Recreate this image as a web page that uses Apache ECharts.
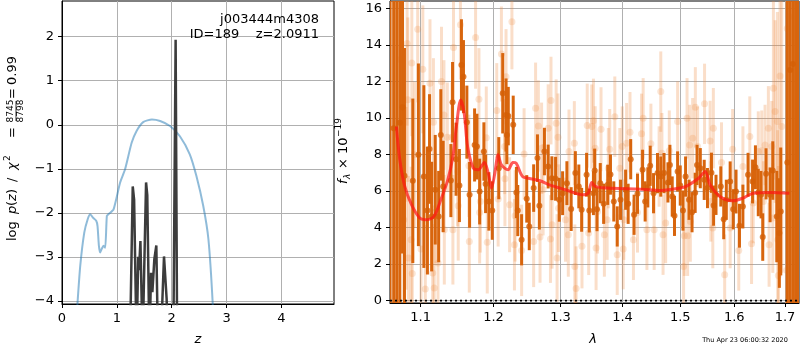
<!DOCTYPE html>
<html>
<head>
<meta charset="utf-8">
<script src="https://cdn.jsdelivr.net/npm/echarts@6/dist/echarts.min.js"></script>
<style>
html, body { margin: 0; padding: 0; background: #fff; }
#main { width: 800px; height: 350px; }
</style>
</head>
<body>
<div id="main"></div>
<script>
// ---- left panel: log p(z) ----
var zTicks = [0, 1, 2, 3, 4];
var logTicks = [-4, -3, -2, -1, 0, 1, 2];
var priorZ = [0.28,0.333,0.406,0.467,0.515,0.564,0.624,0.648,0.673,0.697,0.727,0.758,0.788,0.818,0.848,0.94,1.06,1.15,1.27,1.36,1.48,1.64,1.79,1.97,2.15,2.33,2.45,2.575,2.67,2.75];
var priorLog = [-4.1,-3.2,-2.45,-2.15,-2.03,-2.11,-2.18,-2.30,-2.75,-2.90,-2.81,-2.75,-2.79,-2.07,-2.03,-1.92,-1.31,-1.01,-0.41,-0.14,0.06,0.12,0.085,-0.03,-0.26,-0.67,-1.16,-1.84,-2.6,-4.1];
var pzZ = [1.24,1.29,1.315,1.36,1.39,1.405,1.43,1.47,1.49,1.533,1.555,1.594,1.624,1.648,1.684,1.72,1.75,1.80,1.86,1.908,1.93,2.03,2.072,2.10];
var pzLog = [-5,-1.40,-1.70,-5,-3.0,-3.3,-2.64,-5,-5,-1.31,-1.60,-5,-3.36,-3.80,-3.05,-2.74,-5,-5,-2.99,-3.95,-5,-5,1.93,-5];

// ---- right panel: spectrum ----
var lamTicks = [1.1, 1.2, 1.3, 1.4, 1.5, 1.6, 1.7];
var fluxTicks = [0, 2, 4, 6, 8, 10, 12, 14, 16];
var lamMin = 1.0604, lamMax = 1.7287;

var darkLam = [
  1.0605,1.0651,1.0690,1.0729,1.0764,1.0789,1.0897,1.0970,1.1042,1.1089,
  1.1117,1.1145,1.1193,1.1239,1.1268,1.1300,1.1404,1.1427,1.1475,1.1521,
  1.1549,1.1577,1.1624,1.1662,1.1732,1.1765,1.1803,1.1863,1.1887,1.1934,
  1.1982,1.2076,1.2133,1.2181,1.2193,1.2214,1.2286,1.2333,1.2353,1.2410,
  1.2486,1.2524,1.2590,1.2647,1.2676,1.2753,1.2810,1.2867,1.2924,1.2981,
  1.3033,1.3100,1.3167,1.3233,1.3288,1.3333,1.3412,1.3455,1.3522,1.3542,
  1.3580,1.3633,1.3688,1.3755,1.3800,1.3855,1.3912,1.3967,1.4052,1.4095,
  1.4138,1.4195,1.4253,1.4340,1.4384,1.4430,1.4471,1.4529,1.4598,1.4655,
  1.4712,1.4781,1.4816,1.4857,1.4897,1.4953,1.5000,1.5049,1.5096,1.5158,
  1.5213,1.5270,1.5304,1.5364,1.5436,1.5496,1.5570,1.5610,1.5655,1.5745,
  1.5800,1.5849,1.5922,1.5980,1.6034,1.6100,1.6166,1.6266,1.6354,1.6410,
  1.6466,1.6520,1.6554,1.6620,1.6700,1.6754,1.6834,1.6886,1.6914,1.7047,
  1.7103,1.7159,1.7216,1.7268];
var darkFlux = [
  17,9.44,17,9.74,10.58,6.83,6.56,7.98,6.79,4.93,
  8.30,4.60,6.07,4.60,9.07,6.25,6.57,10.86,7.74,6.30,
  12.90,12.26,9.77,5.79,8.52,8.43,5.97,8.16,6.39,5.43,
  4.93,7.25,11.35,10.16,9.07,10.10,9.62,5.92,4.93,3.33,
  5.57,4.06,6.16,7.80,5.19,8.16,7.34,6.70,6.67,5.52,
  5.88,6.43,5.01,6.98,6.25,4.97,6.89,4.93,5.88,7.12,
  5.00,6.43,5.30,6.34,6.90,5.43,4.06,5.52,6.07,5.30,
  7.74,4.70,5.85,7.16,5.43,6.20,7.38,5.88,6.98,6.79,
  6.98,6.47,7.43,5.70,4.64,7.07,6.30,4.93,6.79,5.52,
  4.84,5.90,7.43,7.25,6.61,6.16,7.00,5.20,5.79,6.25,
  4.46,5.52,6.52,5.00,5.97,4.10,5.15,6.89,6.52,7.30,
  5.92,5.80,3.48,6.94,5.79,7.12,4.60,3.70,4.88,7.56,
  12.62,12.95,17,17];
var darkErr = [
  20,20,20,20,8,7,4.5,5,5,3.5,
  3,3,3,2.5,2.5,2.5,2,2.2,2,2,
  2.5,2,2,1.8,2,1.8,1.8,1.6,1.6,1.6,
  1.6,1.7,2.2,2,1.6,1.6,1.6,1.4,1.4,1.4,
  1.3,1.3,1.3,1.3,1.3,1.3,1.2,1.2,1.2,1.2,
  1.2,1.2,1.2,1.2,1.2,1.2,1.2,1.2,1.2,1.2,
  1.2,1.1,1.1,1.1,1.1,1.1,1.1,1.1,1.1,1.1,
  1.1,1.1,1.1,1.1,1.1,1.1,1.1,1.1,1.1,1.1,
  1.1,1.1,1.1,1.1,1.1,1.1,1.1,1.1,1.1,1.1,
  1.1,1.1,1.1,1.1,1.1,1.1,1.1,1.1,1.1,1.1,
  1.1,1.1,1.1,1.1,1.2,1.2,1.2,1.2,1.2,1.2,
  1.3,1.3,1.3,1.4,1.5,1.6,2.5,3,3.5,20,
  20,20,20,20];

var faintLam = [
  1.0738,1.0780,1.0810,1.0823,1.0832,1.0840,1.0875,1.0884,1.0890,1.0919,
  1.0961,1.1004,1.1028,1.1061,1.1123,1.1159,1.1169,1.1179,1.1200,1.1230,
  1.1277,1.1310,1.1315,1.1356,1.1418,1.1432,1.1440,1.1497,1.1505,1.1535,
  1.1652,1.1658,1.1746,1.1793,1.1803,1.1813,1.1897,1.1911,1.2047,1.2067,
  1.2114,1.2161,1.2165,1.2181,1.2233,1.2267,1.2304,1.2314,1.2410,1.2447,
  1.2590,1.2619,1.2661,1.2686,1.2710,1.2733,1.2810,1.2845,1.2853,1.2870,
  1.2933,1.2947,1.2961,1.2971,1.3078,1.3122,1.3133,1.3217,1.3225,1.3245,
  1.3338,1.3422,1.3445,1.3495,1.3522,1.3550,1.3565,1.3588,1.3645,1.3700,
  1.3745,1.3765,1.3788,1.3872,1.3912,1.3955,1.3995,1.4012,1.4022,1.4069,
  1.4126,1.4184,1.4253,1.4322,1.4350,1.4414,1.4483,1.4540,1.4626,1.4655,
  1.4675,1.4695,1.4741,1.4805,1.4953,1.5060,1.5073,1.5122,1.5133,1.5169,
  1.5182,1.5224,1.5273,1.5315,1.5442,1.5545,1.5558,1.5595,1.5605,1.5758,
  1.5818,1.5922,1.5969,1.6086,1.6166,1.6300,1.6334,1.6366,1.6466,1.6534,
  1.6566,1.6600,1.6666,1.6680,1.6734,1.6754,1.6766,1.6800,1.6846,1.6855,
  1.6866,1.6900,1.6934,1.7035,1.7047,1.7089];
var faintFlux = [
  13.20,4.43,5.60,14.08,11.00,2.33,3.33,13.00,1.48,7.98,
  14.85,2.82,12.66,0.64,11.90,1.51,9.77,0.69,5.06,2.06,
  11.99,10.16,3.88,8.94,8.94,3.88,13.86,7.07,5.19,15.10,
  7.38,3.24,14.40,11.02,4.83,5.43,8.92,3.19,10.40,5.56,
  13.50,8.43,6.67,12.26,5.25,15.26,3.06,4.64,2.75,8.03,
  3.24,10.53,9.56,3.48,8.34,6.07,9.44,3.37,10.95,4.15,
  9.71,2.33,8.94,5.06,4.43,3.61,8.16,8.62,1.87,0.67,
  2.97,9.58,3.70,9.53,9.85,8.34,2.88,4.88,9.38,3.61,
  4.43,7.25,8.29,10.07,2.51,7.25,8.43,2.82,4.43,8.62,
  9.22,3.33,4.83,9.13,9.98,3.88,8.58,3.88,7.34,11.44,
  8.07,3.61,4.25,8.21,9.80,1.87,3.55,9.98,3.55,8.52,
  4.33,8.89,10.58,8.43,10.77,8.74,5.43,3.97,9.44,7.56,
  1.42,3.97,8.29,2.75,7.34,8.98,3.11,5.34,8.16,8.21,
  5.43,8.52,9.44,3.06,8.43,4.52,11.62,10.35,9.80,3.33,
  1.37,12.30,9.53,1.66,14.90,15.54];
var faintErr = [
  5,5,5,4.5,4.5,4.5,4,4,4,4,
  4,4,3.5,3.5,3.5,3.5,3.5,3.5,3,3,
  3,3,3,3,3,3,3,3,3,3,
  2.8,2.8,2.8,2.8,2.8,2.8,2.8,2.8,2.6,2.6,
  2.6,2.6,2.6,2.6,2.6,2.6,2.5,2.5,2.5,2.5,
  2.5,2.5,2.5,2.5,2.5,2.5,2.4,2.4,2.4,2.4,
  2.4,2.4,2.4,2.4,2.3,2.3,2.3,2.3,2.3,2.3,
  2.3,2.3,2.3,2.3,2.3,2.3,2.3,2.3,2.3,2.3,
  2.2,2.2,2.2,2.2,2.2,2.2,2.2,2.2,2.2,2.2,
  2.2,2.2,2.2,2.2,2.2,2.2,2.2,2.2,2.2,2.2,
  2.2,2.2,2.2,2.2,2.2,2.2,2.2,2.2,2.2,2.2,
  2.2,2.2,2.2,2.2,2.2,2.2,2.2,2.2,2.2,2.2,
  2.2,2.2,2.2,2.2,2.2,2.2,2.2,2.2,2.2,2.2,
  2.2,2.2,2.3,2.3,2.5,3,5,5,6,6,
  6,8,8,20,20,20];

var modelLam = [1.0686,1.0729,1.0793,1.0880,1.0987,1.1056,1.1173,1.1268,1.1362,1.1432,1.1479,1.1539,1.1587,1.1634,1.1714,1.1785,1.1869,1.1925,1.1972,1.2019,1.2067,1.2114,1.2210,1.2281,1.2329,1.2424,1.2543,1.2686,1.2829,1.3078,1.3355,1.3438,1.3495,1.3550,1.3745,1.4310,1.4655,1.5000,1.5122,1.5333,1.5455,1.5545,1.5727,1.5969,1.6166,1.6366,1.6700,1.7089];
var modelFlux = [9.53,7.70,6.25,5.25,4.52,4.43,4.60,5.52,6.61,7.89,9.53,10.98,10.25,8.43,7.25,7.16,7.56,6.98,6.16,6.98,7.98,7.43,7.16,7.56,7.52,6.79,6.67,6.56,6.34,6.07,5.79,5.88,6.47,6.25,6.16,6.10,6.03,6.16,6.28,6.70,7.07,6.34,5.70,5.46,5.61,5.88,5.92,5.88];

// ---- build ----
var L = Math.log;
function xy(xs, ys) { return xs.map(function (x, i) { return [x, ys[i]]; }); }
function lnPts(lam, f, e) {
  return lam.map(function (l, i) { return e ? [L(l), f[i], e[i]] : [L(l), f[i]]; });
}
function errBar(color) {
  return function (params, api) {
    var x = api.value(0), y = api.value(1), e = api.value(2);
    var a = api.coord([x, y - e]), b = api.coord([x, y + e]);
    return { type: 'line', shape: { x1: a[0], y1: a[1], x2: b[0], y2: b[1] },
             style: { stroke: color, lineWidth: 3 } };
  };
}
var minus = function (v) { return (v < 0 ? '\u2212' : '') + Math.abs(v); };
var FONT = 'DejaVu Sans';
var lblStyle = { color: '#000', fontSize: 13, fontFamily: FONT };
var grid = { lineStyle: { color: '#b0b0b0', width: 1 } };
var axLine = { onZero: false, lineStyle: { color: '#000', width: 1 } };
function tick(vals) { return { customValues: vals, length: 4, lineStyle: { color: '#000' } }; }
// one piece of the rotated axis title
function piece(txt, x, y, font, align) {
  return { type: 'text', x: x, y: y, style: { text: txt, fill: '#000', font: font,
           align: align || 'left', verticalAlign: 'middle' } };
}
var F13 = '13px "DejaVu Sans"', I13 = 'italic 13px "DejaVu Sans"', F9 = '9px "DejaVu Sans"';

var darkColor = '#d8650d';
var faintColor = 'rgba(236,138,62,0.28)';

var option = {
  animation: false,
  grid: [
    { left: 62, top: 1, width: 272, height: 303, show: true, borderColor: '#000', borderWidth: 1 },
    { left: 390, top: 1, width: 409, height: 302, show: true, borderColor: '#000', borderWidth: 1 }
  ],
  xAxis: [
    { gridIndex: 0, type: 'value', min: 0, max: 4.96, axisLine: axLine, axisTick: tick(zTicks),
      axisLabel: Object.assign({ customValues: zTicks, margin: 8 }, lblStyle), splitLine: grid },
    { gridIndex: 1, type: 'value', min: L(lamMin), max: L(lamMax), axisLine: axLine,
      axisTick: tick(lamTicks.map(L)),
      axisLabel: Object.assign({ customValues: lamTicks.map(L), margin: 8,
        formatter: function (v) { return Math.exp(v).toFixed(1); } }, lblStyle),
      splitLine: grid }
  ],
  yAxis: [
    { gridIndex: 0, type: 'value', min: -4.07, max: 2.81, axisLine: axLine, axisTick: tick(logTicks),
      axisLabel: Object.assign({ customValues: logTicks, margin: 8, formatter: minus }, lblStyle),
      splitLine: grid },
    { gridIndex: 1, type: 'value', min: -0.13, max: 16.4, axisLine: axLine, axisTick: tick(fluxTicks),
      axisLabel: Object.assign({ customValues: fluxTicks, margin: 8 }, lblStyle), splitLine: grid }
  ],
  series: [
    { type: 'line', xAxisIndex: 0, yAxisIndex: 0, data: xy(priorZ, priorLog), showSymbol: false,
      smooth: 0.2, lineStyle: { color: 'rgba(31,119,180,0.5)', width: 2 }, z: 2 },
    { type: 'line', xAxisIndex: 0, yAxisIndex: 0, data: xy(pzZ, pzLog), showSymbol: false,
      lineStyle: { color: '#3c3c3c', width: 2.5 }, z: 3 },

    { type: 'custom', xAxisIndex: 1, yAxisIndex: 1, data: lnPts(faintLam, faintFlux, faintErr),
      renderItem: errBar(faintColor), encode: { x: 0, y: 1 }, clip: true, z: 2 },
    { type: 'scatter', xAxisIndex: 1, yAxisIndex: 1, data: lnPts(faintLam, faintFlux),
      symbolSize: 7, itemStyle: { color: faintColor }, clip: true, z: 3 },
    { type: 'custom', xAxisIndex: 1, yAxisIndex: 1, data: lnPts(darkLam, darkFlux, darkErr),
      renderItem: errBar(darkColor), encode: { x: 0, y: 1 }, clip: true, z: 4 },
    { type: 'scatter', xAxisIndex: 1, yAxisIndex: 1, data: lnPts(darkLam, darkFlux),
      symbolSize: 6, itemStyle: { color: '#d45f06' }, clip: true, z: 5 },
    { type: 'line', xAxisIndex: 1, yAxisIndex: 1, data: lnPts(modelLam, modelFlux), showSymbol: false,
      smooth: 0.3, lineStyle: { color: 'rgba(255,20,20,0.7)', width: 3 }, z: 6 },
    { type: 'line', xAxisIndex: 1, yAxisIndex: 1, data: lnPts([lamMin, lamMax], [0, 0]), showSymbol: false,
      lineStyle: { color: '#000', width: 1.8, type: [2, 3] }, z: 7 }
  ],
  graphic: [
    { type: 'text', x: 319, y: 20, z: 100, style: { text: 'j003444m4308', fill: '#000', font: F13, align: 'right', verticalAlign: 'middle' } },
    { type: 'text', x: 319, y: 35, z: 100, style: { text: 'ID=189    z=2.0911', fill: '#000', font: F13, align: 'right', verticalAlign: 'middle' } },
    { type: 'text', x: 198, y: 340, style: { text: 'z', fill: '#000', font: I13, align: 'center', verticalAlign: 'middle' } },
    { type: 'text', x: 593, y: 340, style: { text: 'λ', fill: '#000', font: I13, align: 'center', verticalAlign: 'middle' } },
    { type: 'text', x: 745, y: 340, style: { text: 'Thu Apr 23 06:00:32 2020', fill: '#000', font: '6.5px "DejaVu Sans"', align: 'center', verticalAlign: 'middle' } },
    // y title of left panel, drawn bottom-to-top
    { type: 'group', x: 13, y: 241, rotation: Math.PI / 2, children: [
      piece('log', 0, 0, F13),
      piece('p', 27, 0, I13),
      piece('(', 35, 0, F13),
      piece('z', 40, 0, I13),
      piece(')', 47, 0, F13),
      piece('/', 59, 0, F13),
      piece('χ', 71, 0, I13),
      piece('2', 80, -5, F9),
      piece('=', 103, 0, F13),
      piece('8745', 130, -2, F9, 'center'),
      { type: 'line', shape: { x1: 120, y1: 3, x2: 140, y2: 3 }, style: { stroke: '#000', lineWidth: 0.8 } },
      piece('8798', 130, 8, F9, 'center'),
      piece('=', 142, 0, F13),
      piece('0.99', 156, 0, F13)
    ] },
    { type: 'group', x: 344, y: 184, rotation: Math.PI / 2, children: [
      piece('f', 0, 0, I13),
      piece('λ', 5, 4, 'italic 9px "DejaVu Sans"'),
      piece('× 10', 15, 0, F13),
      piece('\u221219', 47, -5, F9)
    ] }
  ]
};

var chart = echarts.init(document.getElementById('main'));
chart.setOption(option);
</script>
</body>
</html>
